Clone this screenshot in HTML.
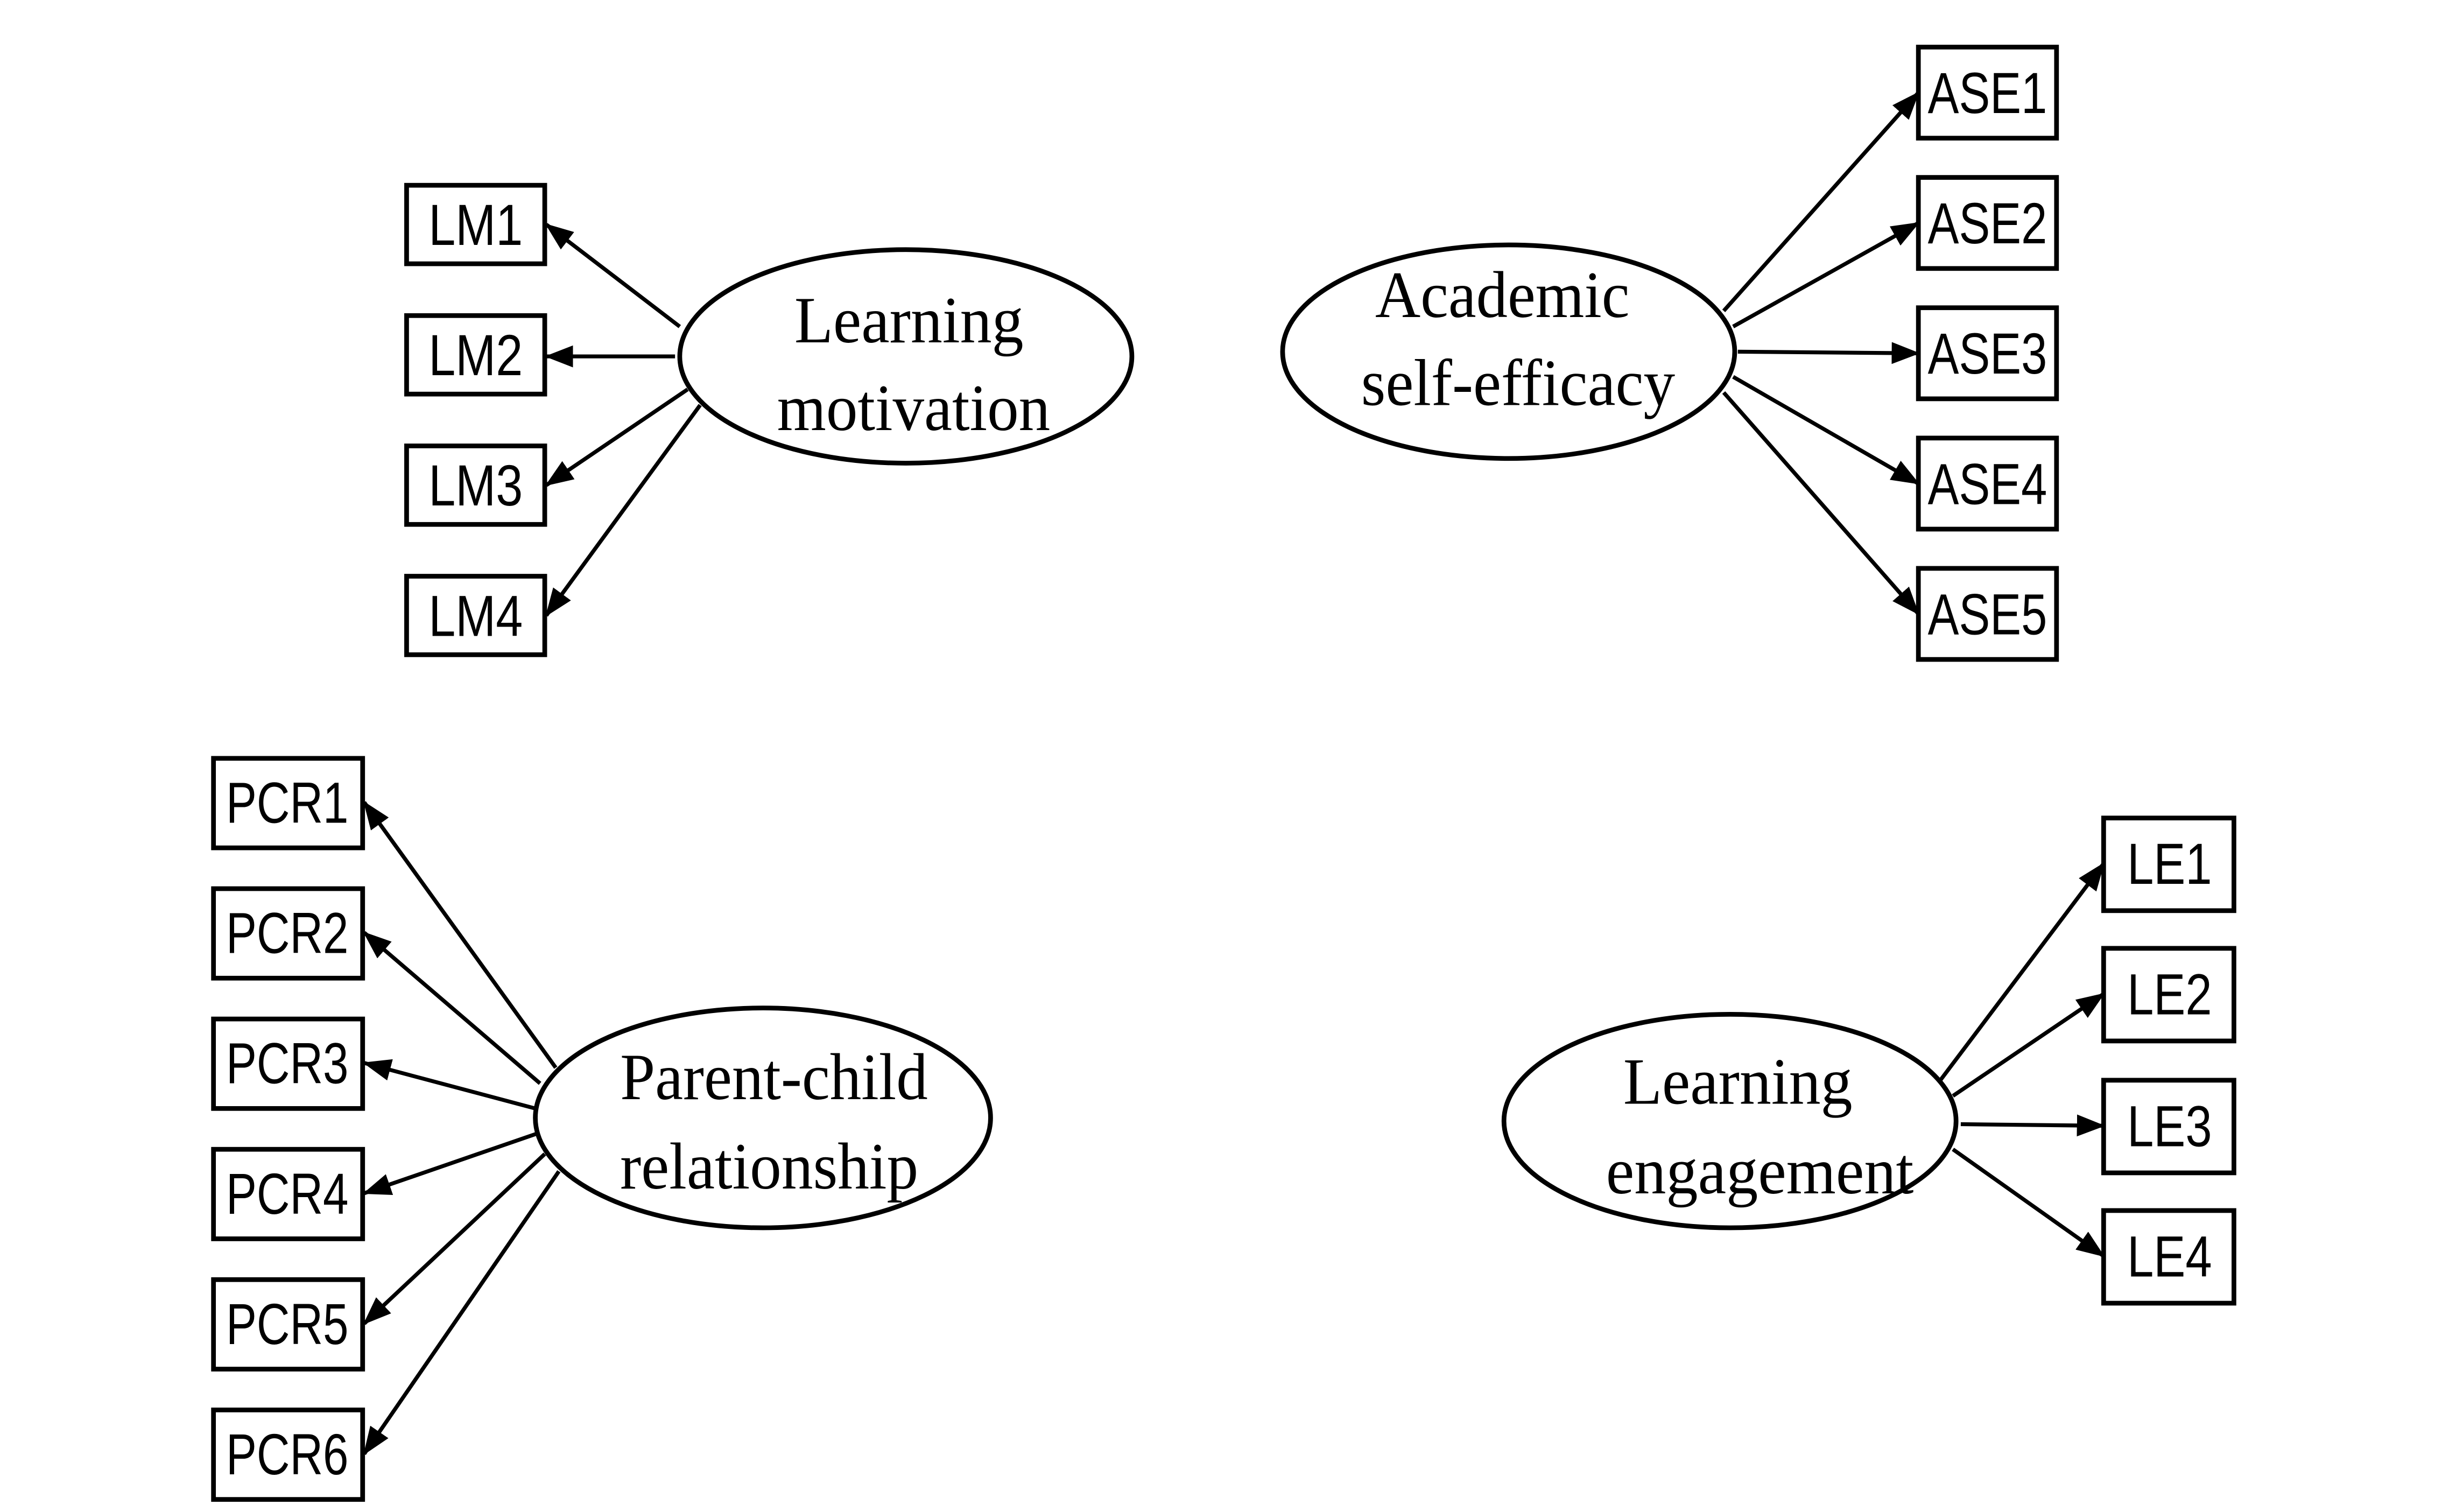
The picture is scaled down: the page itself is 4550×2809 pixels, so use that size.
<!DOCTYPE html>
<html><head><meta charset="utf-8"><style>
html,body{margin:0;padding:0;background:#fff;}
svg{display:block;}
.b{font-family:"Liberation Sans",sans-serif;font-size:37px;fill:#000;}
.s{font-family:"Liberation Serif",serif;font-size:42px;fill:#000;}
</style></head><body>
<svg width="4550" height="2809" viewBox="0 0 1560 963" preserveAspectRatio="none" xmlns="http://www.w3.org/2000/svg">
<defs>
<marker id="m" markerWidth="18" markerHeight="14" refX="17" refY="7" orient="auto" markerUnits="userSpaceOnUse"><path d="M0,0 L18,7 L0,14 z" fill="#000"/></marker></defs>
<g fill="none" stroke="#000" stroke-width="3">
<rect x="259" y="118" width="88" height="50"/><rect x="259" y="201" width="88" height="50"/><rect x="259" y="284" width="88" height="50"/><rect x="259" y="367" width="88" height="50"/>
<ellipse cx="577" cy="227" rx="144" ry="68"/>
<rect x="1222" y="30" width="88" height="58"/><rect x="1222" y="113" width="88" height="58"/><rect x="1222" y="196" width="88" height="58"/><rect x="1222" y="279" width="88" height="58"/><rect x="1222" y="362" width="88" height="58"/>
<ellipse cx="961" cy="224" rx="144" ry="68"/>
<rect x="136" y="483" width="95" height="57"/><rect x="136" y="566" width="95" height="57"/><rect x="136" y="649" width="95" height="57"/><rect x="136" y="732" width="95" height="57"/><rect x="136" y="815" width="95" height="57"/><rect x="136" y="898" width="95" height="57"/>
<ellipse cx="486" cy="712" rx="145" ry="70"/>
<rect x="1340" y="521" width="83" height="59"/><rect x="1340" y="604" width="83" height="59"/><rect x="1340" y="688" width="83" height="59"/><rect x="1340" y="771" width="83" height="59"/>
<ellipse cx="1102" cy="714" rx="144" ry="68"/>
</g>
<g stroke="#000" stroke-width="2.5" marker-end="url(#m)">
<line x1="433" y1="208" x2="348" y2="143"/>
<line x1="430" y1="227" x2="348" y2="227"/>
<line x1="438" y1="248" x2="348" y2="309"/>
<line x1="446" y1="258" x2="348" y2="392"/>
<line x1="1098" y1="198" x2="1222" y2="59"/>
<line x1="1104" y1="208" x2="1222" y2="142"/>
<line x1="1107" y1="224" x2="1222" y2="225"/>
<line x1="1104" y1="240" x2="1222" y2="308"/>
<line x1="1098" y1="250" x2="1222" y2="391"/>
<line x1="354" y1="680" x2="232" y2="511"/>
<line x1="344" y1="690" x2="232" y2="594"/>
<line x1="341" y1="706" x2="232" y2="677"/>
<line x1="342" y1="722" x2="232" y2="760"/>
<line x1="347" y1="735" x2="232" y2="843"/>
<line x1="356" y1="746" x2="232" y2="926"/>
<line x1="1236" y1="688" x2="1340" y2="550"/>
<line x1="1244" y1="698" x2="1340" y2="633"/>
<line x1="1249" y1="716" x2="1340" y2="717"/>
<line x1="1244" y1="732" x2="1340" y2="800"/>
</g>
<g class="b" text-anchor="middle">
<text x="303" y="156" textLength="60" lengthAdjust="spacingAndGlyphs">LM1</text>
<text x="303" y="239" textLength="60" lengthAdjust="spacingAndGlyphs">LM2</text>
<text x="303" y="322" textLength="60" lengthAdjust="spacingAndGlyphs">LM3</text>
<text x="303" y="405" textLength="60" lengthAdjust="spacingAndGlyphs">LM4</text>
<text x="1266" y="72" textLength="76" lengthAdjust="spacingAndGlyphs">ASE1</text>
<text x="1266" y="155" textLength="76" lengthAdjust="spacingAndGlyphs">ASE2</text>
<text x="1266" y="238" textLength="76" lengthAdjust="spacingAndGlyphs">ASE3</text>
<text x="1266" y="321" textLength="76" lengthAdjust="spacingAndGlyphs">ASE4</text>
<text x="1266" y="404" textLength="76" lengthAdjust="spacingAndGlyphs">ASE5</text>
<text x="183" y="524" textLength="78" lengthAdjust="spacingAndGlyphs">PCR1</text>
<text x="183" y="607" textLength="78" lengthAdjust="spacingAndGlyphs">PCR2</text>
<text x="183" y="690" textLength="78" lengthAdjust="spacingAndGlyphs">PCR3</text>
<text x="183" y="773" textLength="78" lengthAdjust="spacingAndGlyphs">PCR4</text>
<text x="183" y="856" textLength="78" lengthAdjust="spacingAndGlyphs">PCR5</text>
<text x="183" y="939" textLength="78" lengthAdjust="spacingAndGlyphs">PCR6</text>
<text x="1382" y="563" textLength="54" lengthAdjust="spacingAndGlyphs">LE1</text>
<text x="1382" y="646" textLength="54" lengthAdjust="spacingAndGlyphs">LE2</text>
<text x="1382" y="730" textLength="54" lengthAdjust="spacingAndGlyphs">LE3</text>
<text x="1382" y="813" textLength="54" lengthAdjust="spacingAndGlyphs">LE4</text>
</g>
<g class="s" text-anchor="middle">
<text x="579" y="218" textLength="146" lengthAdjust="spacingAndGlyphs">Learning</text>
<text x="582" y="274" textLength="174" lengthAdjust="spacingAndGlyphs">motivation</text>
<text x="957" y="202" textLength="162" lengthAdjust="spacingAndGlyphs">Academic</text>
<text x="967" y="258" textLength="200" lengthAdjust="spacingAndGlyphs">self-efficacy</text>
<text x="493" y="700" textLength="196" lengthAdjust="spacingAndGlyphs">Parent-child</text>
<text x="490" y="757" textLength="190" lengthAdjust="spacingAndGlyphs">relationship</text>
<text x="1107" y="703" textLength="146" lengthAdjust="spacingAndGlyphs">Learning</text>
<text x="1121" y="760" textLength="196" lengthAdjust="spacingAndGlyphs">engagement</text>
</g>
</svg>
</body></html>
